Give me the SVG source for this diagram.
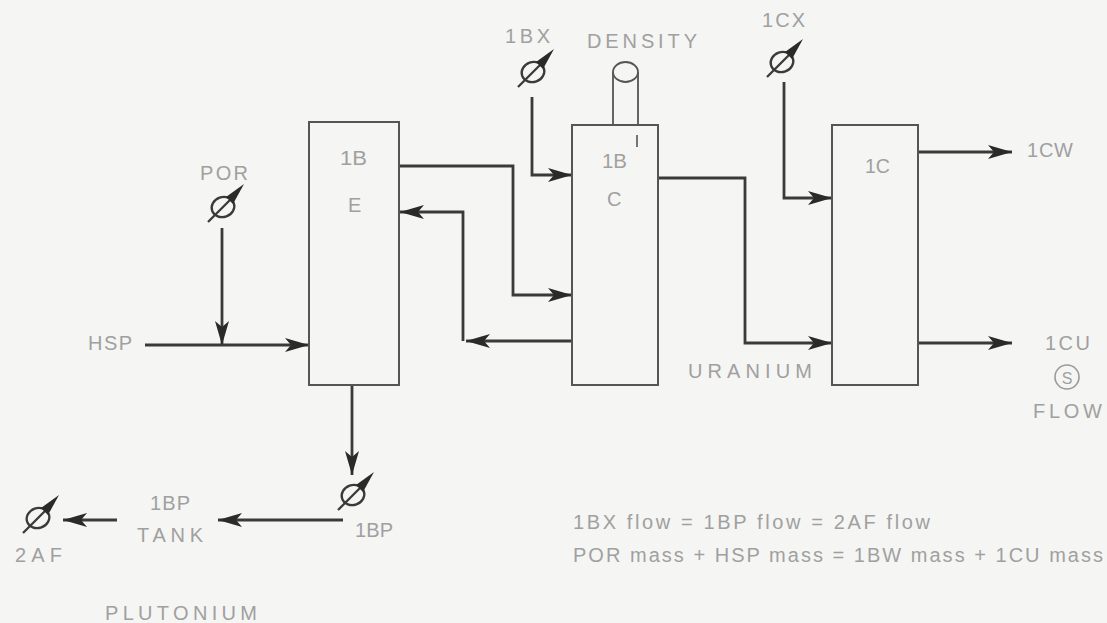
<svg xmlns="http://www.w3.org/2000/svg" width="1107" height="623" viewBox="0 0 1107 623">
<style>
.bg{fill:#f5f5f3}
.box{fill:none;stroke:#555;stroke-width:2}
.ln{fill:none;stroke:#3a3a3a;stroke-width:2.8;stroke-linejoin:miter}
.t{font-family:"Liberation Sans",Arial,sans-serif;font-size:20px;fill:#a0a0a0}
.vc{fill:none;stroke:#3a3a3a;stroke-width:2.3}
</style>
<defs>
<marker id="ah" markerUnits="userSpaceOnUse" markerWidth="26" markerHeight="16" refX="24" refY="7" orient="auto">
<path d="M0,0 L24,7 L0,14 L6,7 Z" fill="#2a2a2a"/>
</marker>
<g id="valve">
<ellipse cx="0" cy="0" rx="11.5" ry="10" transform="rotate(-20)" class="vc"/>
<line x1="-15" y1="15" x2="8" y2="-8" class="vc"/>
<path d="M3,-10 L21,-23 L10,-3 Z" fill="#2a2a2a"/>
</g>
</defs>
<rect class="bg" x="0" y="0" width="1107" height="623"/>

<g id="connectors">
<path class="ln" d="M145,345 H309" marker-end="url(#ah)"/>
<path class="ln" d="M222,228 V345" marker-end="url(#ah)"/>
<path class="ln" d="M399,166 H513 V295 H572" marker-end="url(#ah)"/>
<path class="ln" d="M572,341 H466" marker-end="url(#ah)"/>
<path class="ln" d="M463,341 V212 H400" marker-end="url(#ah)"/>
<path class="ln" d="M532,97 V175 H572" marker-end="url(#ah)"/>
<path class="ln" d="M658,178 H745 V343 H832" marker-end="url(#ah)"/>
<path class="ln" d="M784,82 V198 H832" marker-end="url(#ah)"/>
<path class="ln" d="M918,152 H1012" marker-end="url(#ah)"/>
<path class="ln" d="M918,343 H1012" marker-end="url(#ah)"/>
<path class="ln" d="M352,385 V475" marker-end="url(#ah)"/>
<path class="ln" d="M343,520 H218" marker-end="url(#ah)"/>
<path class="ln" d="M117,520 H63" marker-end="url(#ah)"/>
</g>

<g id="node-1BE">
<rect class="box" x="309" y="122" width="90" height="263"/>
<text class="t" x="340" y="165" textLength="27" lengthAdjust="spacingAndGlyphs">1B</text>
<text class="t" x="348" y="212">E</text>
</g>

<g id="node-1BC">
<rect class="box" x="572" y="125" width="86" height="260"/>
<text class="t" x="602" y="168" textLength="25" lengthAdjust="spacingAndGlyphs">1B</text>
<text class="t" x="607" y="206">C</text>
<line x1="637" y1="135" x2="637" y2="147" stroke="#555" stroke-width="1.6"/>
</g>

<g id="node-density">
<line x1="613" y1="72" x2="613" y2="125" stroke="#555" stroke-width="1.8"/>
<line x1="638" y1="72" x2="638" y2="125" stroke="#555" stroke-width="1.8"/>
<ellipse cx="625.5" cy="72" rx="12.5" ry="10" fill="#f5f5f3" stroke="#555" stroke-width="1.8"/>
<text class="t" x="587" y="48" textLength="110" lengthAdjust="spacing">DENSITY</text>
</g>

<g id="node-1C">
<rect class="box" x="832" y="125" width="86" height="260"/>
<text class="t" x="865" y="173" textLength="25" lengthAdjust="spacingAndGlyphs">1C</text>
</g>

<g id="node-POR">
<use href="#valve" x="223" y="207"/>
<text class="t" x="200" y="180" textLength="48" lengthAdjust="spacing">POR</text>
</g>

<g id="node-HSP">
<text class="t" x="88" y="350" textLength="44" lengthAdjust="spacing">HSP</text>
</g>

<g id="node-1BX">
<use href="#valve" x="533" y="72"/>
<text class="t" x="505" y="43" textLength="45" lengthAdjust="spacing">1BX</text>
</g>

<g id="node-1CX">
<use href="#valve" x="782" y="62"/>
<text class="t" x="762" y="27" textLength="43" lengthAdjust="spacing">1CX</text>
</g>

<g id="node-1CW">
<text class="t" x="1027" y="157" textLength="46" lengthAdjust="spacing">1CW</text>
</g>

<g id="node-1CU">
<text class="t" x="1045" y="350" textLength="45" lengthAdjust="spacing">1CU</text>
<circle cx="1067" cy="377" r="12" fill="none" stroke="#9a9a9a" stroke-width="1.6"/>
<text class="t" x="1067" y="383.5" text-anchor="middle" style="font-size:16px">S</text>
<text class="t" x="1033" y="418" textLength="69" lengthAdjust="spacing">FLOW</text>
</g>

<g id="node-uranium">
<text class="t" x="688" y="378" textLength="124" lengthAdjust="spacing">URANIUM</text>
</g>

<g id="node-1BP">
<use href="#valve" x="353" y="495"/>
<text class="t" x="355" y="537" textLength="38" lengthAdjust="spacing">1BP</text>
</g>

<g id="node-1BP-tank">
<text class="t" x="150" y="510" textLength="40" lengthAdjust="spacing">1BP</text>
<text class="t" x="137" y="542" textLength="66" lengthAdjust="spacing">TANK</text>
</g>

<g id="node-2AF">
<use href="#valve" x="38" y="518"/>
<text class="t" x="15" y="562" textLength="47" lengthAdjust="spacing">2AF</text>
</g>

<g id="node-plutonium">
<text class="t" x="105" y="620" textLength="152" lengthAdjust="spacing">PLUTONIUM</text>
</g>

<g id="equations">
<text class="t" x="573" y="529" textLength="357" lengthAdjust="spacing">1BX flow = 1BP flow = 2AF flow</text>
<text class="t" x="573" y="562" textLength="530" lengthAdjust="spacing">POR mass + HSP mass = 1BW mass + 1CU mass</text>
</g>
</svg>
